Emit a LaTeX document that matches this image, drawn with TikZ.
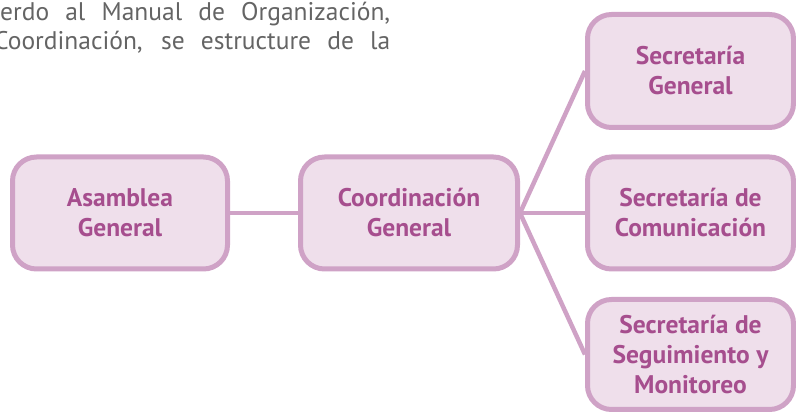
\documentclass[tikz,border=0pt]{standalone}
\usepackage{fontspec}
\setmainfont{PT Sans}
\usepackage{tikz}
\usetikzlibrary{positioning}
\definecolor{boxborder}{RGB}{207, 162, 198}
\definecolor{boxfill}{RGB}{239, 223, 235}
\definecolor{boxtext}{RGB}{166, 78, 142}
\definecolor{bodytext}{RGB}{100, 100, 100}

\begin{document}
\begin{tikzpicture}[x=1pt, y=1pt,
    orgbox/.style={draw=boxborder, fill=boxfill, line width=5pt, rounded corners=24pt,
        text=boxtext, font=\fontsize{25.5}{30}\selectfont\bfseries, align=center, inner sep=0pt},
    orglink/.style={draw=boxborder, line width=4.5pt},
    bodyline/.style={anchor=base west, inner sep=0pt, text=bodytext, font=\fontsize{25.5}{29}\selectfont}]
        \useasboundingbox (0, 0) rectangle (796, 414);
        
        % Paragraph text above
        \node[bodyline] (linea) at (0, 393) {\makebox[390pt][s]{erdo al Manual de Organización,}};
        \node[bodyline] (lineb) at (-6, 364) {\makebox[396pt][s]{Coordinación, se estructure de la}};
        
        % Main boxes
        \node[orgbox, minimum width=215pt, minimum height=112pt] (asamblea) at (120, 201) {Asamblea\\General};
        \node[orgbox, minimum width=217pt, minimum height=112pt] (coordinacion) at (409, 201) {Coordinación\\General};
        
        % Secretarias
        \node[orgbox, minimum width=206pt, minimum height=113pt] (secgeneral) at (690.5, 343) {Secretaría\\General};
        \node[orgbox, minimum width=206pt, minimum height=112pt] (seccomunicacion) at (690.5, 201) {Secretaría de\\Comunicación};
        \node[orgbox, minimum width=206pt, minimum height=110pt] (secseguimiento) at (690.5, 59.5) {Secretaría de\\Seguimiento y\\Monitoreo};
        
        % Links
        \draw[orglink] (asamblea.east) -- (coordinacion.west);
        \draw[orglink] (coordinacion.east) -- (secgeneral.west);
        \draw[orglink] (coordinacion.east) -- (seccomunicacion.west);
        \draw[orglink] (coordinacion.east) -- (secseguimiento.west);
        
    \end{tikzpicture}
\end{document}
